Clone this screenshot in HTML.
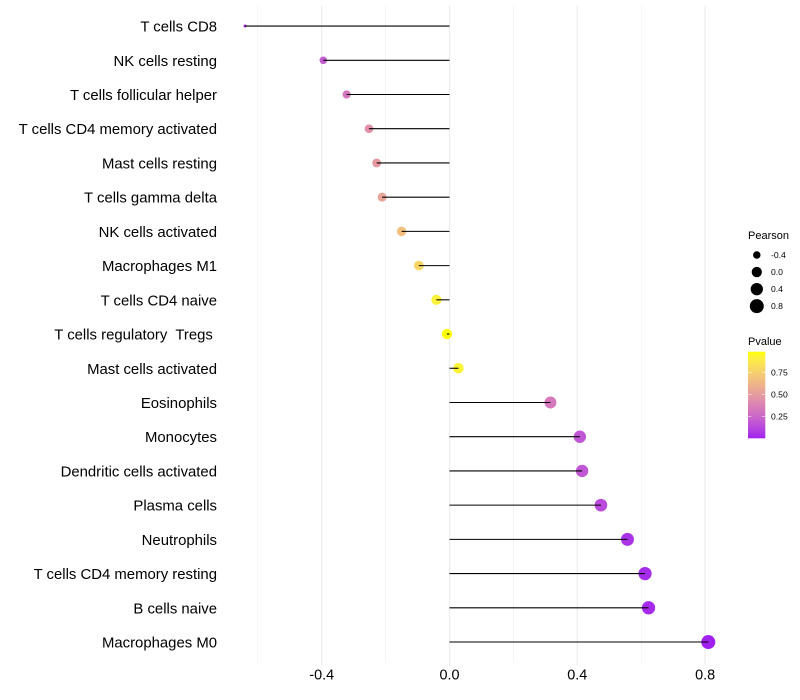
<!DOCTYPE html>
<html lang="en">
<head>
<meta charset="utf-8">
<title>Pearson correlation lollipop chart</title>
<style>
  html, body { margin: 0; padding: 0; background: #fff; }
  svg { display: block; font-family: "Liberation Sans", sans-serif; }
  text { white-space: pre; }
</style>
</head>
<body>
<svg id="chart" xmlns="http://www.w3.org/2000/svg" width="800" height="700" viewBox="0 0 800 700">
  <defs>
    <linearGradient id="pvalue-gradient" x1="0" y1="1" x2="0" y2="0"></linearGradient>
  </defs>
  <rect x="0" y="0" width="800" height="700" fill="#ffffff"></rect>
  <g id="grid"></g>
  <g id="points"></g>
  <g id="stems"></g>
  <g id="y-axis"></g>
  <g id="x-axis"></g>
  <g id="legend-size">
    <text x="748" y="239" font-size="11" fill="#000">Pearson</text>
  </g>
  <g id="legend-color">
    <text x="748" y="345" font-size="11" fill="#000">Pvalue</text>
  </g>
</svg>
<script>
const categories = ["T cells CD8","NK cells resting","T cells follicular helper","T cells CD4 memory activated","Mast cells resting","T cells gamma delta","NK cells activated","Macrophages M1","T cells CD4 naive","T cells regulatory  Tregs ","Mast cells activated","Eosinophils","Monocytes","Dendritic cells activated","Plasma cells","Neutrophils","T cells CD4 memory resting","B cells naive","Macrophages M0"];
const pearsonValues = [-0.64,-0.395,-0.322,-0.252,-0.228,-0.211,-0.15,-0.096,-0.041,-0.008,0.028,0.316,0.408,0.415,0.474,0.557,0.612,0.623,0.81];
const pValues = [0.02,0.2,0.32,0.45,0.49,0.54,0.67,0.78,0.92,0.984,0.93,0.33,0.18,0.18,0.13,0.05,0.03,0.025,0.0001];
const xTickValues = [-0.4,0,0.4,0.8];
const xTickLabels = ["-0.4","0.0","0.4","0.8"];
const xMinorValues = [-0.6,-0.2,0.2,0.6];
const sizeBreaks = [-0.4,0,0.4,0.8];
const sizeBreakLabels = ["-0.4","0.0","0.4","0.8"];
const colorBreaks = [0.25,0.5,0.75];
const colorBreakLabels = ["0.25","0.50","0.75"];

const NS = "http://www.w3.org/2000/svg";
function make(parent, tag, attrs, text) {
  const el = document.createElementNS(NS, tag);
  for (const k in attrs) el.setAttribute(k, attrs[k]);
  if (text !== undefined) el.textContent = text;
  parent.appendChild(el);
  return el;
}
function slug(s) {
  return s.trim().toLowerCase().replace(/[^a-z0-9]+/g, "-");
}

/* axis functions */
const xScale = v => 449.5 + v * 319.5;
const yScale = i => 26.06 + i * 34.22;
const PANEL_TOP = 5.5, PANEL_BOTTOM = 662.5, TICK_BOTTOM = 665;

/* size scale (area) */
const sMin = Math.min.apply(null, pearsonValues);
const sMax = Math.max.apply(null, pearsonValues);
const radius = v => {
  const t = Math.max(0, Math.min(1, (v - sMin) / (sMax - sMin)));
  return 1.5 + 5.5 * Math.sqrt(t);
};

/* colour scale: purple to yellow interpolated in Lab */
function srgbToLab(c) {
  const l = c.map(v => { v /= 255; return v <= 0.04045 ? v / 12.92 : Math.pow((v + 0.055) / 1.055, 2.4); });
  const X = (0.4124 * l[0] + 0.3576 * l[1] + 0.1805 * l[2]) / 0.95047;
  const Y = 0.2126 * l[0] + 0.7152 * l[1] + 0.0722 * l[2];
  const Z = (0.0193 * l[0] + 0.1192 * l[1] + 0.9505 * l[2]) / 1.08883;
  const f = t => t > 0.008856 ? Math.cbrt(t) : 7.787 * t + 16 / 116;
  return [116 * f(Y) - 16, 500 * (f(X) - f(Y)), 200 * (f(Y) - f(Z))];
}
function labToRgb(L) {
  const fy = (L[0] + 16) / 116, fx = fy + L[1] / 500, fz = fy - L[2] / 200;
  const g = t => t * t * t > 0.008856 ? t * t * t : (t - 16 / 116) / 7.787;
  const X = g(fx) * 0.95047, Y = g(fy), Z = g(fz) * 1.08883;
  const lin = [3.2406 * X - 1.5372 * Y - 0.4986 * Z, -0.9689 * X + 1.8758 * Y + 0.0415 * Z, 0.0557 * X - 0.204 * Y + 1.057 * Z];
  const out = lin.map(v => {
    v = Math.max(0, Math.min(1, v));
    v = v <= 0.0031308 ? 12.92 * v : 1.055 * Math.pow(v, 1 / 2.4) - 0.055;
    return Math.round(v * 255);
  });
  return "rgb(" + out.join(",") + ")";
}
const labLow = srgbToLab([160, 32, 240]);
const labHigh = srgbToLab([255, 255, 0]);
const pMin = Math.min.apply(null, pValues);
const pMax = Math.max.apply(null, pValues);
const colorAt = t => labToRgb(labLow.map((v, i) => v + (labHigh[i] - v) * t));
const pColor = p => colorAt(Math.max(0, Math.min(1, (p - pMin) / (pMax - pMin))));

/* grid */
const gridG = document.getElementById("grid");
xMinorValues.forEach(v => {
  const line = make(gridG, "line", {x1: xScale(v), x2: xScale(v), y1: PANEL_TOP, y2: PANEL_BOTTOM, stroke: "#ebebeb", "stroke-width": 0.53});
  
  
});
xTickValues.forEach(v => {
  const line = make(gridG, "line", {x1: xScale(v), x2: xScale(v), y1: PANEL_TOP, y2: TICK_BOTTOM, stroke: "#ebebeb", "stroke-width": 1.07});
  
  
});

/* stems and points: the stem is drawn over the dot and ends at its centre */
const stemsG = document.getElementById("stems");
const pointsG = document.getElementById("points");
const yAxisG = document.getElementById("y-axis");
categories.forEach((name, i) => {
  const y = yScale(i);
  const x = xScale(pearsonValues[i]);

  const stem = make(stemsG, "line", {x1: xScale(0), x2: x, y1: y, y2: y, stroke: "#000", "stroke-width": 1.07});
  
  

  const dot = make(pointsG, "circle", {cx: x, cy: y, r: radius(pearsonValues[i]), fill: pColor(pValues[i])});
  
  

  const label = make(yAxisG, "text", {x: 217, y: y + 5.5, "text-anchor": "end", "font-size": 14.9, fill: "#000"}, name);
  
  
});

/* x axis labels */
const xAxisG = document.getElementById("x-axis");
xTickValues.forEach((v, i) => {
  const t = make(xAxisG, "text", {x: xScale(v), y: 679.5, "text-anchor": "middle", "font-size": 14.4, fill: "#000"}, xTickLabels[i]);
  
  
});

/* size legend */
const sizeG = document.getElementById("legend-size");
sizeBreaks.forEach((v, i) => {
  const y = 255 + i * 17.05;
  const c = make(sizeG, "circle", {cx: 756.8, cy: y, r: radius(v), fill: "#000"});
  
  
  const t = make(sizeG, "text", {x: 771, y: y + 3, "font-size": 8.6, fill: "#000"}, sizeBreakLabels[i]);
  
  
});

/* colour legend */
const gradient = document.getElementById("pvalue-gradient");
for (let k = 0; k <= 20; k++) {
  make(gradient, "stop", {offset: (k / 20), "stop-color": colorAt(k / 20)});
}
const BAR_X = 748, BAR_W = 17.3, BAR_TOP = 351.7, BAR_BOTTOM = 438.3;
const colorG = document.getElementById("legend-color");
const bar = make(colorG, "rect", {x: BAR_X, y: BAR_TOP, width: BAR_W, height: BAR_BOTTOM - BAR_TOP, fill: "url(#pvalue-gradient)"});


const barY = p => BAR_BOTTOM - (p - pMin) / (pMax - pMin) * (BAR_BOTTOM - BAR_TOP);
colorBreaks.forEach((p, i) => {
  const y = barY(p);
  const left = make(colorG, "line", {x1: BAR_X, x2: BAR_X + 3.46, y1: y, y2: y, stroke: "#fff", "stroke-width": 0.5});
  
  
  const right = make(colorG, "line", {x1: BAR_X + BAR_W - 3.46, x2: BAR_X + BAR_W, y1: y, y2: y, stroke: "#fff", "stroke-width": 0.5});
  
  
  const t = make(colorG, "text", {x: 771, y: y + 3, "font-size": 8.6, fill: "#000"}, colorBreakLabels[i]);
  
  
});
</script>
</body>
</html>
